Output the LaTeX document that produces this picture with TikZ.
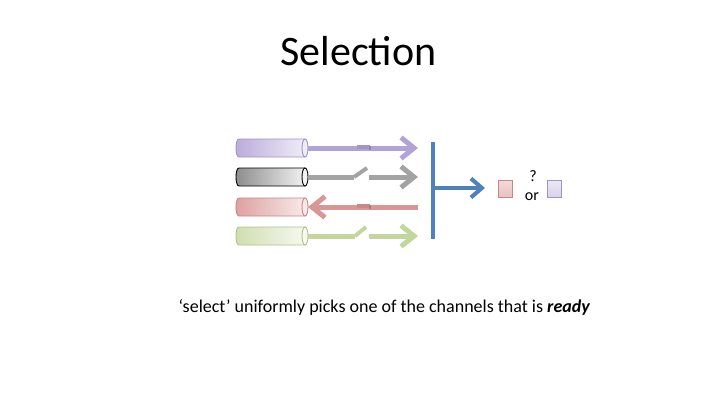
\documentclass[tikz,border=0pt]{standalone}
\usepackage{fontspec}
\setmainfont{Carlito}
\usetikzlibrary{arrows.meta}
\definecolor{cpurple}{HTML}{B3A2D6}
\definecolor{cgray}{HTML}{A3A3A3}
\definecolor{cred}{HTML}{D99694}
\definecolor{cgreen}{HTML}{C3D69B}
\definecolor{cblue}{HTML}{4F81BD}
\tikzset{
  chan/.style={line width=5pt, -{Straight Barb[length=13pt,width=21pt]}},
  chanline/.style={line width=5pt},
  sw/.style={line width=4pt},
  lbl/.style={inner sep=0pt, anchor=base},
  sq/.style={draw, line width=0.8pt, minimum width=14pt, minimum height=17pt, inner sep=0pt},
}
% pipe: #1 x0, #2 x1, #3 yc, #4 left color, #5 right color, #6 border
\newcommand{\mypipe}[6]{%
  \shade[left color=#4, right color=#5, draw=#6, line width=0.9pt]
    (#1+3,#3-9) -- (#2,#3-9) -- (#2,#3+9) -- (#1+3,#3+9)
    .. controls (#1-1,#3+9) and (#1-1,#3-9) .. cycle;
  \filldraw[fill=#5, draw=#6, line width=0.9pt] (#2,#3) ellipse [x radius=3pt, y radius=9pt];
}
\begin{document}
\begin{tikzpicture}[x=1pt,y=-1pt]
\useasboundingbox (0,0) rectangle (720,405);
\node[lbl, font=\fontsize{42}{50}\selectfont] (title) at (358.5,65) {Selection};

% pipes
\mypipe{236}{305}{148}{cpurple!90}{cpurple!20}{cpurple!90!black}
\mypipe{236}{305}{177}{black!45}{black!5}{black}
\mypipe{236}{305}{207}{cred!90}{cred!20}{cred!90!black}
\mypipe{236}{305}{236}{cgreen!80}{cgreen!15}{cgreen!90!black}

\coordinate (p1) at (308,148);
\coordinate (p2) at (308,177);
\coordinate (p3) at (308,207);
\coordinate (p4) at (308,236);
\coordinate (e1) at (418,148);
\coordinate (e2) at (418,177);
\coordinate (e3) at (418,207);
\coordinate (e4) at (418,236);

% purple: closed switch
\draw[chan, cpurple] (p1) -- (e1);
\draw[sw, cpurple!92!black] (357,147) -- (370,147);
\draw[line width=1.5pt, cpurple!80!black] (370,146) -- (370,150);
% gray: open switch
\coordinate (g1) at (354,177);
\coordinate (g2) at (367,168);
\coordinate (g3) at (369,177);
\draw[chanline, cgray] (p2) -- (g1);
\draw[sw, cgray] (g1) -- (g2);
\draw[chan, cgray] (g3) -- (e2);
% red: reversed, closed switch
\draw[chan, cred] (e3) -- (p3);
\draw[sw, cred!92!black] (357,206) -- (370,206);
\draw[line width=1.5pt, cred!80!black] (370,205) -- (370,209);
% green: open switch
\coordinate (h1) at (355,236);
\coordinate (h2) at (366,227);
\coordinate (h3) at (369,236);
\draw[chanline, cgreen] (p4) -- (h1);
\draw[sw, cgreen] (h1) -- (h2);
\draw[chan, cgreen] (h3) -- (e4);

% select bar
\coordinate (bt) at (433,142);
\coordinate (bb) at (433,239);
\coordinate (bm) at (433,188);
\coordinate (bo) at (485,188);
\draw[cblue, line width=4pt] (bt) -- (bb);
\draw[cblue, line width=4pt, -{Straight Barb[length=11pt,width=19pt]}] (bm) -- (bo);

% result
\node[sq, draw=cred!90!black, top color=cred!35, bottom color=cred!60] (rs) at (505.5,189) {};
\node[sq, draw=cpurple!90!black, top color=cpurple!25, bottom color=cpurple!50] (ps) at (554,189) {};
\node[lbl, font=\fontsize{16}{19}\selectfont] (q) at (533,181) {?};
\node[lbl, font=\fontsize{16}{19}\selectfont] (or) at (532,200) {or};

\node[lbl, font=\fontsize{18}{22}\selectfont] (cap) at (384.5,312) {‘select’ uniformly picks one of the channels that is \textbf{\textit{ready}}};
\end{tikzpicture}
\end{document}
